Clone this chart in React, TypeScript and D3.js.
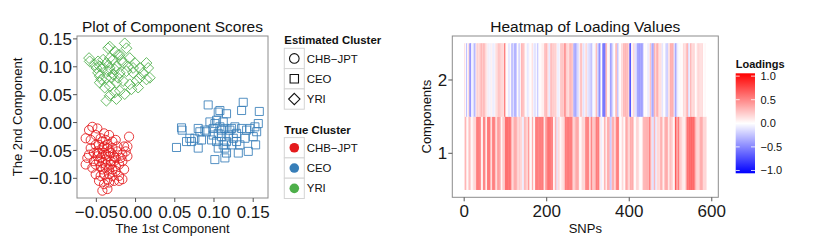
import * as d3 from "d3";
import React from "react";

// clusters (Set1 colours as in ggplot)
const clusterNames = ["CHB\u2212JPT", "CEO", "YRI"];
const clusterColors = ["#E41A1C", "#377EB8", "#4DAF4A"];

// component scores, one pair of arrays per true cluster
const chbPc1 = [-0.0551, -0.0593, -0.0636, -0.0508, -0.0402, -0.0338, -0.0295, -0.0083, -0.0146, -0.0125, -0.0104, -0.0168, -0.0253, -0.0338, -0.0423, -0.0508, -0.0572, -0.0593, -0.0636, -0.053, -0.0445, -0.0381, -0.0466, -0.0359, -0.0295, -0.0232, -0.021, -0.0146, -0.0168, -0.0253, -0.0338, -0.0381, -0.0317, -0.0423, -0.0466, -0.0402, -0.0338, -0.0274, -0.0423, -0.0359, -0.021, -0.0508, -0.0551, -0.0615, -0.0572, -0.0487, -0.0253, -0.0445, -0.0381, -0.0487, -0.0402, -0.0274, -0.0338, -0.0423, -0.0295, -0.0359, -0.0445, -0.0168, -0.0104, -0.0508, -0.0466, -0.0423, -0.0359, -0.0317, -0.0381, -0.0445, -0.0402, -0.0274, -0.0487, -0.0253, -0.0338, -0.0402, -0.0232, -0.0189, -0.053, -0.0317, -0.0381, -0.0466, -0.0295, -0.021];
const chbPc2 = [-0.0077, -0.0136, -0.0282, -0.0224, -0.0194, -0.0224, -0.0341, -0.0253, -0.0429, -0.0517, -0.0605, -0.0693, -0.0634, -0.0517, -0.0458, -0.04, -0.0458, -0.0576, -0.0752, -0.0693, -0.0634, -0.0664, -0.0546, -0.04, -0.0458, -0.0517, -0.0752, -0.084, -0.1016, -0.0869, -0.0928, -0.081, -0.0752, -0.084, -0.1045, -0.1104, -0.1075, -0.1045, -0.1221, -0.1192, -0.0957, -0.0752, -0.081, -0.0634, -0.0312, -0.0106, -0.0312, -0.0282, -0.0312, -0.0517, -0.0546, -0.0605, -0.0605, -0.0722, -0.084, -0.1016, -0.0957, -0.0576, -0.0429, -0.0928, -0.04, -0.0341, -0.0458, -0.0693, -0.0752, -0.0781, -0.0429, -0.0693, -0.0605, -0.0781, -0.084, -0.0928, -0.0429, -0.0634, -0.0546, -0.0546, -0.0576, -0.0693, -0.0957, -0.1045];

const ceoPc1 = [0.0522, 0.0586, 0.0594, 0.0692, 0.0713, 0.0799, 0.082, 0.0841, 0.0926, 0.0905, 0.099, 0.1011, 0.1054, 0.1075, 0.116, 0.1118, 0.1054, 0.1097, 0.1033, 0.1118, 0.1139, 0.116, 0.1182, 0.1224, 0.1246, 0.1267, 0.1288, 0.1352, 0.1373, 0.1352, 0.1395, 0.1331, 0.131, 0.1437, 0.1458, 0.1522, 0.1544, 0.1501, 0.1565, 0.1578, 0.1531, 0.1011, 0.1139, 0.099, 0.1075, 0.1139, 0.1097, 0.1203, 0.0884, 0.0799, 0.0756, 0.065, 0.0969, 0.1288, 0.1416, 0.1054, 0.116, 0.1224, 0.0948, 0.1033];
const ceoPc2 = [-0.0447, -0.0095, -0.0136, -0.0282, -0.0341, -0.0458, -0.0165, -0.0312, 0.0316, -0.0165, -0.0106, -0.0018, 0.0187, 0.0216, 0.0158, 0.0011, -0.0194, -0.0253, -0.0341, -0.04, -0.0458, -0.0341, -0.0224, -0.0106, -0.0282, -0.0077, -0.0194, 0.0216, 0.0363, -0.0106, -0.0282, -0.04, -0.0547, -0.0517, -0.0106, -0.0077, -0.0165, -0.0253, -0.0018, 0.0199, -0.04, -0.0664, -0.0634, -0.0224, -0.0077, -0.0106, -0.0136, -0.0136, -0.0136, -0.0106, -0.0282, -0.0341, -0.0312, -0.0341, -0.0136, -0.0458, -0.0547, -0.04, 0.0011, 0.004];

const yriPc1 = [-0.0593, -0.0478, -0.0457, -0.035, -0.0329, -0.0265, -0.0138, -0.0116, -0.0201, -0.0287, -0.0372, -0.0414, -0.0329, -0.0244, -0.0159, -0.0074, -0.001, 0.0054, 0.0139, 0.0161, 0.0182, 0.0139, 0.0054, -0.0031, -0.0116, -0.0201, -0.0287, -0.0372, -0.0436, -0.0478, -0.0521, -0.0457, -0.0393, -0.0329, -0.0244, -0.0159, -0.0074, 0.0012, -0.0201, -0.0265, -0.0329, -0.0372, -0.0244, -0.0138, -0.0052, 0.0033, -0.0308, -0.0223, -0.0414, -0.0585, -0.05, -0.0223, -0.018, -0.0095, -0.0031, 0.0097, -0.035, -0.0265, -0.0329, -0.0457];
const yriPc2 = [0.1156, 0.1097, 0.1009, 0.1332, 0.1361, 0.1273, 0.142, 0.1332, 0.1214, 0.1126, 0.1068, 0.0979, 0.0979, 0.1009, 0.1068, 0.1156, 0.1068, 0.0979, 0.1068, 0.0979, 0.0803, 0.0774, 0.0803, 0.0891, 0.0921, 0.0891, 0.0862, 0.0803, 0.0774, 0.0891, 0.1038, 0.0715, 0.0627, 0.0657, 0.0715, 0.0745, 0.0686, 0.0745, 0.0569, 0.0539, 0.048, 0.0392, 0.0422, 0.051, 0.0598, 0.0627, 0.0803, 0.0803, 0.1126, 0.1097, 0.0979, 0.1214, 0.1126, 0.1009, 0.0979, 0.0891, 0.0921, 0.095, 0.1156, 0.0833];

const pc1Ticks = [-0.05, 0, 0.05, 0.1, 0.15];
const pc2Ticks = [-0.1, -0.05, 0, 0.05, 0.1, 0.15];

// SNP loadings, component 1 and component 2 (586 SNPs)
const loadings1 = [
  0.15, 0.3, 0.35, 0.3, 0.25, 0.05, 0.0, 0.05, 0.02, 0.0,
  0.3, 0.35, 0.3, 0.15, 0.2, 0.15, 0.0, 0.05, 0.0, 0.0,
  0.15, 0.2, 0.1, 0.15, 0.2, 0.15, 0.1, 0.2, 0.5, 0.55,
  0.5, 0.6, 0.55, 0.5, 0.6, 0.55, 0.5, 0.6, 0.55, 0.5,
  0.1, 0.05, 0.0, 0.1, 0.05, 0.5, 0.55, 0.6, 0.5, 0.55,
  0.5, 0.1, 0.15, 0.05, 0.1, 0.55, 0.6, 0.65, 0.55, 0.6,
  0.55, 0.6, 0.65, 0.2, 0.15, 0.2, 0.1, 0.5, 0.55, 0.5,
  0.55, 0.6, 0.5, 0.55, 0.5, 0.2, 0.15, 0.2, 0.1, 0.4,
  0.4, 0.35, 0.45, 0.4, 0.35, 0.4, 0.45, 0.35, 0.0, 0.05,
  0.0, 0.2, 0.15, 0.2, 0.25, 0.2, 0.15, 0.2, 0.6, 0.65,
  0.6, 0.65, 0.6, 0.7, 0.6, 0.65, 0.6, 0.55, 0.65, 0.6,
  0.65, 0.6, 0.55, 0.6, 0.2, 0.15, 0.2, 0.15, 0.1, 0.35,
  0.35, 0.4, 0.3, 0.35, 0.4, 0.35, 0.3, 0.35, 0.2, 0.15,
  0.2, 0.15, 0.2, 0.25, 0.2, 0.15, 0.2, 0.15, 0.2, 0.1,
  -0.05, -0.1, -0.05, -0.1, 0.15, 0.3, 0.35, 0.3, 0.25, 0.3,
  0.2, 0.15, 0.2, 0.15, 0.45, 0.5, 0.3, 0.25, 0.05, 0.0,
  0.05, 0.0, 0.1, 0.05, 0.35, 0.4, 0.35, 0.05, 0.0, 0.05,
  0.0, 0.5, 0.55, 0.5, 0.6, 0.55, 0.5, 0.6, 0.55, 0.5,
  0.55, 0.6, 0.55, 0.5, 0.6, 0.55, 0.6, 0.5, 0.55, 0.6,
  0.55, 0.6, 0.05, 0.0, 0.1, 0.35, 0.4, 0.35, 0.3, 0.55,
  0.6, 0.55, 0.6, 0.65, 0.6, 0.55, 0.6, 0.65, 0.55, 0.6,
  0.55, 0.5, 0.6, 0.55, 0.5, 0.05, 0.0, 0.05, 0.0, 0.3,
  0.35, 0.3, 0.35, -0.1, -0.15, -0.1, 0.15, 0.2, 0.15, 0.1,
  0.15, 0.05, 0.0, 0.05, 0.0, 0.1, 0.15, 0.1, 0.15, 0.2,
  0.15, 0.1, 0.15, 0.5, 0.55, 0.6, 0.55, 0.5, 0.6, 0.55,
  0.6, 0.55, 0.6, 0.55, 0.5, 0.6, 0.55, 0.6, 0.5, 0.55,
  0.6, 0.55, 0.2, 0.25, 0.2, 0.15, 0.2, 0.25, 0.2, 0.35,
  0.4, 0.35, 0.4, 0.35, 0.4, 0.35, 0.3, 0.35, 0.0, 0.05,
  0.0, 0.05, 0.0, 0.0, 0.2, 0.15, 0.2, 0.15, 0.2, 0.15,
  0.2, 0.15, 0.2, 0.5, 0.55, 0.5, 0.55, 0.6, 0.5, 0.55,
  0.5, 0.55, 0.15, 0.2, 0.1, 0.15, 0.5, 0.55, 0.5, 0.6,
  0.2, 0.25, 0.3, 0.2, 0.25, 0.3, 0.2, 0.25, 0.55, 0.6,
  0.55, 0.6, 0.5, 0.55, 0.6, 0.55, 0.5, 0.2, 0.15, 0.1,
  -0.05, -0.1, -0.05, -0.1, 0.0, 0.05, 0.0, 0.02, 0.3, 0.35,
  0.3, 0.35, 0.1, 0.05, 0.1, 0.05, 0.35, 0.4, 0.3, 0.35,
  0.4, 0.35, -0.15, -0.2, -0.25, -0.2, -0.15, 0.35, 0.4, 0.3,
  0.35, 0.4, 0.2, 0.15, 0.2, 0.15, 0.2, 0.5, 0.55, 0.5,
  0.55, 0.6, 0.5, 0.55, 0.5, 0.0, 0.05, 0.0, 0.02, 0.0,
  0.0, 0.15, 0.2, 0.15, 0.2, 0.1, 0.0, 0.05, 0.0, 0.02,
  0.3, 0.35, 0.4, 0.35, 0.3, 0.35, 0.2, 0.15, 0.2, 0.15,
  0.2, 0.3, 0.35, 0.4, 0.35, 0.3, 0.35, 0.4, 0.3, 0.35,
  0.05, 0.0, 0.02, 0.0, 0.05, 0.0, 0.15, 0.2, 0.15, 0.2,
  0.15, 0.2, 0.1, 0.0, 0.05, 0.0, 0.02, 0.0, 0.05, 0.0,
  0.0, 0.05, 0.3, 0.35, 0.3, 0.25, 0.35, 0.3, 0.35, 0.3,
  0.3, 0.35, 0.35, 0.3, 0.4, 0.35, 0.3, 0.35, 0.55, 0.6,
  0.55, 0.2, 0.15, 0.2, -0.1, -0.15, -0.1, -0.15, -0.1, 0.35,
  0.3, 0.35, -0.1, -0.15, -0.1, -0.05, 0.15, 0.2, 0.15, 0.1,
  0.2, 0.15, 0.1, 0.2, 0.15, 0.35, 0.4, 0.35, 0.3, 0.4,
  0.1, 0.05, 0.1, 0.05, 0.1, 0.35, 0.4, 0.35, 0.3, 0.35,
  0.4, 0.35, 0.3, 0.35, 0.05, 0.1, 0.05, 0.3, 0.25, 0.3,
  0.25, 0.3, 0.15, 0.2, 0.15, 0.2, 0.0, 0.05, 0.0, 0.02,
  0.7, 0.75, 0.7, 0.65, 0.3, 0.35, 0.3, 0.6, 0.55, 0.6,
  0.55, 0.2, 0.15, 0.2, 0.25, 0.2, 0.15, 0.2, 0.1, 0.05,
  0.0, 0.15, 0.1, 0.05, 0.1, 0.05, 0.35, 0.4, 0.35, 0.6,
  0.6, 0.65, 0.6, 0.55, 0.6, 0.65, 0.7, 0.65, 0.6, 0.65,
  0.7, 0.65, 0.6, 0.65, 0.7, 0.65, 0.6, 0.65, 0.35, 0.3,
  0.35, 0.3, 0.2, 0.15, 0.2, 0.15, 0.2, 0.15, 0.2, 0.15,
  0.35, 0.4, 0.35, 0.3, 0.35, 0.4, 0.35, 0.3, 0.2, 0.15,
  0.2, 0.15, 0.2, 0.15, 0.2, 0.15,
];
const loadings2 = [
  0.2, 0.1, 0.05, 0.0, -0.3, -0.3, -0.2, 0.0, 0.05, 0.1,
  0.2, 0.15, -0.4, -0.5, -0.5, -0.4, -0.2, 0.0, 0.05, 0.0,
  -0.15, -0.2, -0.15, 0.0, -0.35, -0.4, -0.3, 0.05, 0.1, 0.15,
  0.2, 0.25, 0.15, 0.2, 0.1, 0.2, 0.25, 0.1, 0.2, 0.3,
  0.3, 0.35, 0.25, 0.3, 0.15, 0.3, 0.35, 0.2, 0.3, 0.25,
  0.15, 0.2, 0.1, 0.15, 0.05, 0.1, -0.05, 0.05, -0.1, 0.05,
  -0.1, 0.0, -0.1, 0.05, -0.05, 0.1, 0.0, -0.1, -0.05, 0.05,
  -0.1, -0.05, 0.0, -0.1, 0.05, 0.1, 0.15, 0.1, 0.2, 0.15,
  0.2, 0.15, 0.25, 0.3, 0.2, 0.25, 0.3, 0.15, 0.25, 0.2,
  0.15, 0.1, 0.2, 0.15, 0.1, 0.2, 0.5, 0.6, 0.55, 0.3,
  0.0, 0.05, 0.0, 0.02, 0.0, 0.05, 0.0, -0.2, -0.15, -0.1,
  0.0, 0.05, 0.0, 0.0, -0.35, -0.4, -0.3, -0.15, -0.2, -0.1,
  -0.15, -0.35, -0.4, -0.35, -0.3, -0.4, -0.2, 0.0, 0.05, 0.0,
  0.0, -0.2, -0.25, -0.15, -0.2, 0.0, 0.05, 0.3, 0.35, 0.3,
  0.3, 0.25, 0.3, 0.2, 0.35, 0.15, 0.1, 0.05, 0.0, 0.05,
  0.0, -0.1, -0.05, -0.15, -0.1, -0.05, -0.1, 0.0, 0.05, 0.0,
  0.0, 0.05, 0.0, 0.15, 0.2, 0.1, 0.0, -0.05, -0.1, -0.15,
  -0.1, -0.05, -0.15, -0.1, -0.05, 0.0, -0.2, -0.25, -0.2, -0.1,
  0.0, 0.05, 0.0, 0.02, 0.0, 0.05, 0.1, 0.0, 0.05, 0.1,
  0.05, 0.1, 0.05, 0.15, 0.3, 0.35, 0.25, 0.3, 0.35, 0.3,
  0.2, 0.15, 0.2, 0.1, -0.1, -0.15, -0.1, -0.05, 0.25, 0.3,
  0.3, 0.25, 0.35, 0.2, 0.15, 0.25, 0.2, 0.3, 0.15, 0.2,
  0.25, 0.15, 0.2, 0.1, 0.05, -0.05, -0.1, -0.05, -0.1, 0.0,
  -0.05, 0.05, 0.2, 0.25, 0.3, 0.2, 0.25, 0.3, 0.2, 0.15,
  0.2, 0.4, 0.45, 0.5, 0.45, 0.4, 0.3, 0.2, 0.15, 0.2,
  0.15, 0.2, 0.1, 0.2, 0.3, 0.25, 0.3, 0.35, 0.2, 0.3,
  0.25, 0.3, 0.2, 0.15, -0.3, -0.35, -0.4, -0.3, -0.35, -0.4,
  -0.35, -0.3, -0.2, -0.15, -0.2, -0.1, -0.15, -0.1, 0.0, 0.1,
  0.25, 0.3, 0.2, 0.25, 0.3, 0.2, -0.05, -0.1, -0.15, -0.1,
  -0.1, -0.05, 0.0, 0.05, 0.3, 0.25, 0.1, 0.0, -0.1, -0.15,
  -0.15, -0.1, -0.2, -0.15, -0.1, -0.2, -0.25, -0.3, -0.25, -0.2,
  -0.1, 0.0, -0.05, 0.0, -0.1, 0.0, 0.05, 0.0, 0.3, 0.35,
  0.3, -0.1, -0.15, -0.2, -0.15, -0.4, -0.45, -0.5, -0.45, -0.4,
  0.0, 0.05, 0.0, 0.0, -0.45, -0.5, -0.55, -0.6, -0.65, -0.6,
  -0.55, -0.5, 0.3, 0.35, 0.3, 0.25, 0.0, 0.05, 0.0, 0.0,
  0.15, 0.1, -0.05, -0.4, -0.45, -0.4, -0.35, -0.2, -0.15, -0.2,
  -0.15, 0.0, 0.05, 0.0, 0.0, 0.05, 0.3, 0.35, 0.3, 0.25,
  -0.2, -0.3, -0.25, -0.15, 0.0, 0.0, 0.05, 0.0, 0.02, 0.0,
  0.15, 0.2, 0.1, 0.15, 0.2, 0.3, 0.35, 0.3, 0.25, 0.35,
  0.3, 0.35, 0.3, 0.25, 0.35, 0.3, 0.2, 0.15, 0.2, 0.15,
  -0.7, -0.9, -0.85, -0.5, 0.0, 0.05, 0.0, 0.02, 0.15, 0.2,
  0.15, 0.2, -0.1, -0.15, -0.1, -0.15, -0.1, -0.2, -0.35, -0.4,
  -0.4, -0.45, -0.35, -0.4, -0.45, -0.4, -0.35, -0.4, -0.45, -0.4,
  -0.4, -0.35, -0.4, -0.3, 0.0, 0.05, 0.0, 0.0, 0.05, 0.0,
  0.0, 0.0, 0.05, -0.05, -0.1, -0.05, -0.1, -0.05, 0.0, 0.3,
  0.3, 0.25, -0.15, -0.2, -0.35, -0.4, -0.35, -0.4, -0.3, 0.3,
  0.3, 0.35, 0.15, 0.2, 0.15, 0.3, 0.35, 0.4, 0.3, 0.35,
  0.15, 0.2, 0.1, 0.15, 0.2, 0.1, 0.15, 0.1, -0.1, -0.15,
  -0.1, -0.05, 0.0, 0.05, 0.0, 0.0, -0.1, -0.15, -0.1, -0.2,
  -0.2, -0.25, -0.2, -0.15, 0.1, 0.15, 0.2, 0.1, 0.3, 0.35,
  0.4, 0.35, 0.3, 0.4, 0.35, 0.3, 0.35, -0.1, -0.15, -0.1,
  -0.35, -0.4, -0.35, -0.3, -0.15, -0.1, -0.05, -0.1, -0.05, 0.0,
  -0.05, 0.0, 0.0, 0.05, 0.0, 0.0, 0.02, 0.0, 0.05, 0.0,
  0.15, 0.2, 0.15, 0.1, 0.15, 0.2, 0.1, 0.15, 0.3, 0.35,
  0.3, 0.35, -0.1, -0.15, -0.1, -0.05, -0.1, 0.3, 0.35, 0.3,
  0.2, 0.15, 0.2, 0.1, 0.15, 0.2, 0.15, 0.1, 0.2, 0.0,
  0.0, 0.05, 0.0, 0.15, 0.2, 0.1, 0.15, 0.2, 0.15, 0.1,
  0.2, 0.15, 0.1, 0.2, 0.15, 0.1, 0.2, 0.15, 0.05, 0.0,
  0.0, 0.05, 0.0, 0.02, 0.05, 0.0,
];
const snpTicks = [0, 200, 400, 600];
const componentTicks = [1, 2];
const loadingTicks = [1.0, 0.5, 0.0, -0.5, -1.0];
const loadingLimit = 1.06;

const W = 817;
const H = 245;
const font = "'Liberation Sans', Arial, Helvetica, sans-serif";
const minus = (s: string) => s.replace("-", "\u2212");

// ggplot-style 5% expansion
const expand = (ext: [number, number], f = 0.05): [number, number] => {
  const d = (ext[1] - ext[0]) * f;
  return [ext[0] - d, ext[1] + d];
};

const groups = [
  { x: chbPc1, y: chbPc2, k: 0 },
  { x: ceoPc1, y: ceoPc2, k: 1 },
  { x: yriPc1, y: yriPc2, k: 2 },
];

function shapePath(k: number, r: number) {
  if (k === 0) return d3.symbol(d3.symbolCircle, Math.PI * r * r)()!;
  if (k === 1) return d3.symbol(d3.symbolSquare, (r * 1.75) ** 2)()!;
  const q = r * 1.18;
  return `M0,${-q}L${q},0L0,${q}L${-q},0Z`;
}

function ScorePlot() {
  const left = 77, right = 268, top = 36, bottom = 198;
  const allX = groups.flatMap((g) => g.x);
  const allY = groups.flatMap((g) => g.y);
  const x = d3.scaleLinear().domain(expand(d3.extent(allX) as [number, number])).range([left, right]);
  const y = d3.scaleLinear().domain(expand(d3.extent(allY) as [number, number])).range([bottom, top]);
  const fmt = d3.format(".2f");
  return (
    <g>
      <rect x={left} y={top} width={right - left} height={bottom - top} fill="white" />
      {groups.map((g) =>
        g.x.map((v, i) => (
          <path
            key={`${g.k}-${i}`}
            d={shapePath(g.k, 4.6)}
            transform={`translate(${x(v)},${y(g.y[i])})`}
            fill="none"
            stroke={clusterColors[g.k]}
            strokeOpacity={0.85}
            strokeWidth={1}
          />
        ))
      )}
      <rect x={left} y={top} width={right - left} height={bottom - top} fill="none" stroke="#8c8c8c" strokeWidth={1} />
      {pc2Ticks.map((t) => (
        <g key={`y${t}`}>
          <line x1={left - 4} x2={left} y1={y(t)} y2={y(t)} stroke="#555" />
          <text x={left - 5} y={y(t)} dy="0.36em" textAnchor="end" fontSize={17} fill="#1a1a1a">{minus(fmt(t))}</text>
        </g>
      ))}
      {pc1Ticks.map((t) => (
        <g key={`x${t}`}>
          <line x1={x(t)} x2={x(t)} y1={bottom} y2={bottom + 4} stroke="#555" />
          <text x={x(t)} y={bottom + 20} textAnchor="middle" fontSize={17} fill="#1a1a1a">{minus(fmt(t))}</text>
        </g>
      ))}
      <text x={(left + right) / 2} y={32} textAnchor="middle" fontSize={15.5} fill="#111">Plot of Component Scores</text>
      <text x={(left + right) / 2} y={232.5} textAnchor="middle" fontSize={13} fill="#111">The 1st Component</text>
      <text transform={`translate(22,${(top + bottom) / 2}) rotate(-90)`} textAnchor="middle" fontSize={13} fill="#111">The 2nd Component</text>
    </g>
  );
}

function ClusterLegend() {
  const kx = 284.3, kw = 20, kh = 20.3;
  const blocks = [
    { title: "Estimated Cluster", ty: 44, top: 48.3, filled: false },
    { title: "True Cluster", ty: 134, top: 137.6, filled: true },
  ];
  return (
    <g>
      {blocks.map((b) => (
        <g key={b.title}>
          <text x={kx} y={b.ty} fontSize={11.4} fontWeight="bold" fill="#111">{b.title}</text>
          {clusterNames.map((n, i) => {
            const cy = b.top + i * kh + kh / 2;
            return (
              <g key={n}>
                <rect x={kx} y={b.top + i * kh} width={kw} height={kh} fill="white" stroke="#d4d4d4" strokeWidth={1} />
                {b.filled ? (
                  <circle cx={kx + kw / 2} cy={cy} r={4.8} fill={clusterColors[i]} />
                ) : (
                  <path d={shapePath(i, 4.8)} transform={`translate(${kx + kw / 2},${cy})`} fill="none" stroke="#111" strokeWidth={1.1} />
                )}
                <text x={kx + kw + 2.5} y={cy} dy="0.36em" fontSize={11.4} fill="#111">{n}</text>
              </g>
            );
          })}
        </g>
      ))}
    </g>
  );
}

function LoadingHeatmap() {
  const left = 452.3, right = 718.3, top = 36, bottom = 197.3;
  const n = loadings1.length;
  const x = d3.scaleLinear().domain(expand([0.5, n + 0.5])).range([left, right]);
  const y = d3.scaleLinear().domain([0.4, 2.6]).range([bottom, top]);
  const color = d3
    .scaleLinear<string>()
    .domain([-loadingLimit, 0, loadingLimit])
    .range(["#0000ff", "#ffffff", "#ff0000"])
    .interpolate(d3.interpolateRgb)
    .clamp(true);
  const rows = [
    { comp: 1, vals: loadings1 },
    { comp: 2, vals: loadings2 },
  ];
  const dx = x(1) - x(0);
  // colour bar
  const bx = 735.7, bw = 19.3, bTop = 73.3, bBottom = 173.3;
  const by = d3.scaleLinear().domain([-loadingLimit, loadingLimit]).range([bBottom, bTop]);
  const stops = d3.range(0, 21).map((i) => -loadingLimit + (i / 20) * 2 * loadingLimit);
  return (
    <g>
      <defs>
        <linearGradient id="loadGrad" x1="0" y1="1" x2="0" y2="0">
          {stops.map((s, i) => (
            <stop key={i} offset={`${(i / 20) * 100}%`} stopColor={color(s)} />
          ))}
        </linearGradient>
      </defs>
      <rect x={left} y={top} width={right - left} height={bottom - top} fill="white" />
      {rows.map((r) =>
        r.vals.map((v, i) => (
          <rect
            key={`${r.comp}-${i}`}
            x={x(i + 1 - 0.5)}
            y={y(r.comp + 0.5)}
            width={dx + 0.35}
            height={y(r.comp - 0.5) - y(r.comp + 0.5)}
            fill={color(v)}
          />
        ))
      )}
      <rect x={left} y={top} width={right - left} height={bottom - top} fill="none" stroke="#8c8c8c" strokeWidth={1} />
      {snpTicks.map((t) => (
        <g key={`x${t}`}>
          <line x1={x(t)} x2={x(t)} y1={bottom} y2={bottom + 4} stroke="#555" />
          <text x={x(t)} y={bottom + 20} textAnchor="middle" fontSize={17} fill="#1a1a1a">{t}</text>
        </g>
      ))}
      {componentTicks.map((t) => (
        <g key={`y${t}`}>
          <line x1={left - 4} x2={left} y1={y(t)} y2={y(t)} stroke="#555" />
          <text x={left - 5} y={y(t)} dy="0.36em" textAnchor="end" fontSize={17} fill="#1a1a1a">{t}</text>
        </g>
      ))}
      <text x={(left + right) / 2} y={32} textAnchor="middle" fontSize={15.5} fill="#111">Heatmap of Loading Values</text>
      <text x={(left + right) / 2} y={232.5} textAnchor="middle" fontSize={13} fill="#111">SNPs</text>
      <text transform={`translate(431,${(top + bottom) / 2}) rotate(-90)`} textAnchor="middle" fontSize={13} fill="#111">Components</text>

      <text x={bx} y={68.3} fontSize={11} fontWeight="bold" fill="#111">Loadings</text>
      <rect x={bx} y={bTop} width={bw} height={bBottom - bTop} fill="url(#loadGrad)" />
      {loadingTicks.map((t) => (
        <g key={`l${t}`}>
          <line x1={bx} x2={bx + 4} y1={by(t)} y2={by(t)} stroke="white" strokeWidth={0.8} />
          <line x1={bx + bw - 4} x2={bx + bw} y1={by(t)} y2={by(t)} stroke="white" strokeWidth={0.8} />
          <text x={bx + bw + 5.5} y={by(t)} dy="0.36em" fontSize={11} fill="#111">{minus(d3.format(".1f")(t))}</text>
        </g>
      ))}
    </g>
  );
}

export default function App() {
  return (
    <svg
      width={W}
      height={H}
      viewBox={`0 0 ${W} ${H}`}
      style={{ position: "absolute", left: 0, top: 0, background: "white" }}
      fontFamily={font}
    >
      <rect width={W} height={H} fill="white" />
      <ScorePlot />
      <ClusterLegend />
      <LoadingHeatmap />
    </svg>
  );
}
